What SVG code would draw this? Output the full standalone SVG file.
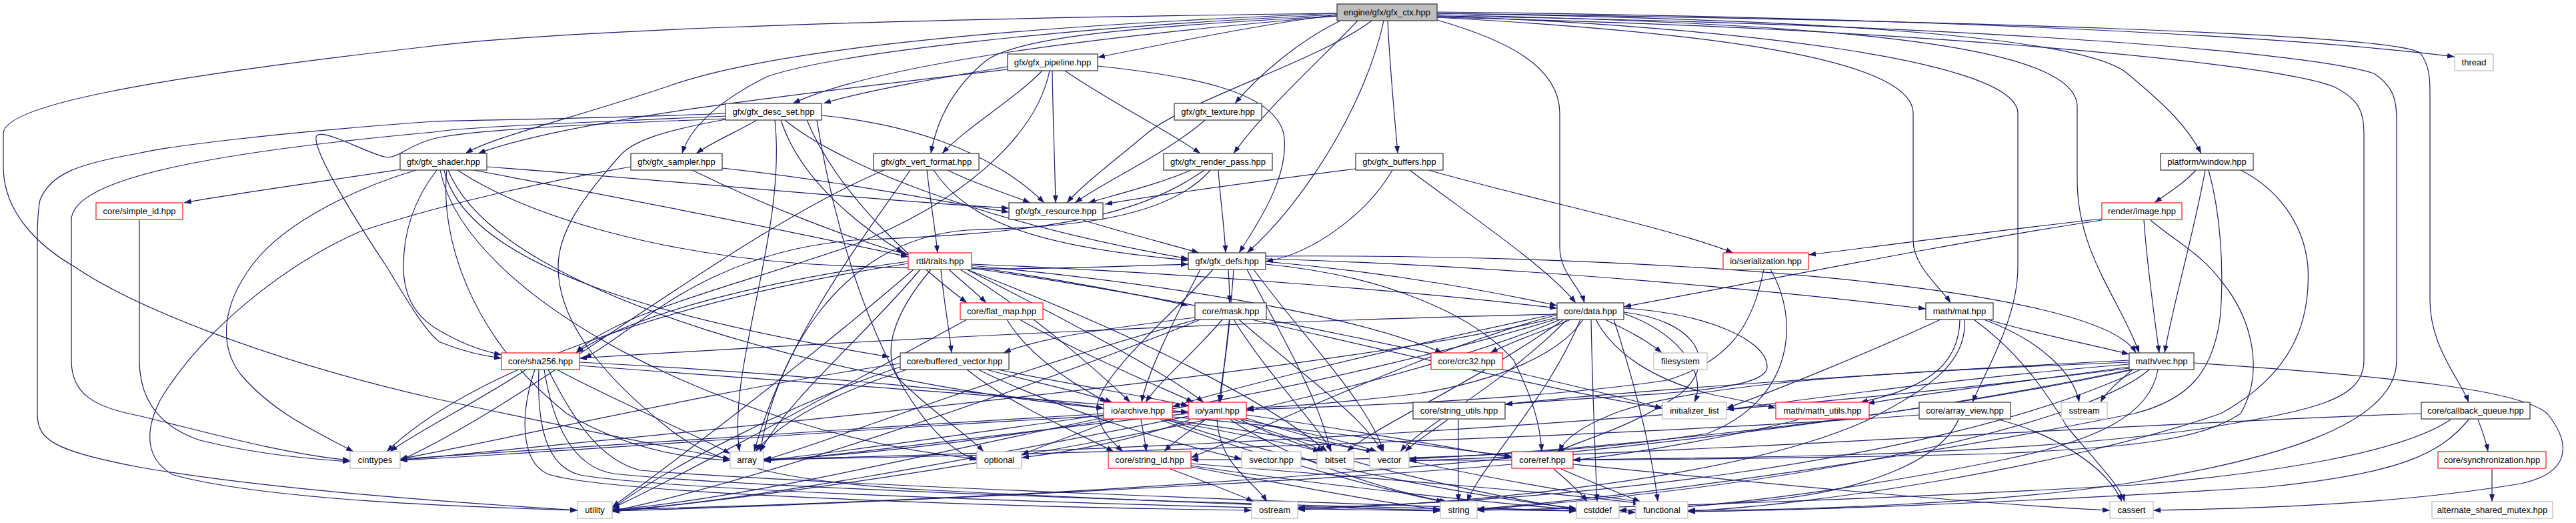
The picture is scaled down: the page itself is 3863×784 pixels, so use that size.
<svg xmlns="http://www.w3.org/2000/svg" width="3863" height="784" viewBox="0 0 3863 784">
<defs>
<marker id="a" markerUnits="userSpaceOnUse" markerWidth="11" markerHeight="8" refX="11" refY="4" orient="auto"><path d="M0,0 L11,4 L0,8 z" fill="#191970"/></marker>
<style>
.e{fill:none;stroke:#191970;stroke-width:1.2;marker-end:url(#a)}
.n rect{fill:#fff;stroke:#404040;stroke-width:1.3}
.r rect{stroke:#ff2020}
.g rect{stroke:#bfbfbf}
.root rect{fill:#bfbfbf}
text{font-family:"Liberation Sans",Arial,sans-serif;font-size:13px;text-anchor:middle;fill:#000}
</style>
</defs>
<rect width="3863" height="784" fill="#fff"/>
<g id="edges">
<path class="e" d="M2005,22 C1900,35 1750,65 1646,86"/>
<path class="e" d="M2005,24 C1700,50 1330,90 1189,155"/>
<path class="e" d="M2005,20 C1500,40 1150,75 1000,130 C850,180 740,205 698,230"/>
<path class="e" d="M2005,22 C1600,40 1250,80 1150,115 C1080,150 1035,190 1023,230"/>
<path class="e" d="M2005,24 C1700,40 1530,55 1480,90 C1430,130 1405,180 1396,230"/>
<path class="e" d="M2010,31 C1950,60 1890,110 1852,155"/>
<path class="e" d="M2036,31 C1990,80 1900,160 1850,230"/>
<path class="e" d="M2057,31 C1980,90 1780,150 1720,200 C1660,250 1620,280 1600,304"/>
<path class="e" d="M2075,31 C2050,150 1960,300 1870,379"/>
<path class="e" d="M2081,31 C2084,100 2091,170 2096,230"/>
<path class="e" d="M2155,30 C2260,60 2339,100 2339,170 L2339,370 C2339,410 2370,430 2376,454"/>
<path class="e" d="M2155,26 C2500,45 2869,80 2869,170 L2869,360 C2869,400 2910,430 2925,454"/>
<path class="e" d="M2155,24 C2600,40 3026,90 3026,170 L3026,400 C3026,480 2975,560 2958,603"/>
<path class="e" d="M2155,22 C2700,35 3115,60 3115,160 L3115,270 C3115,380 3180,450 3208,529"/>
<path class="e" d="M2155,20 C2800,30 3130,60 3190,110 C3250,160 3280,190 3301,230"/>
<path class="e" d="M2155,18 C2800,25 3400,50 3681,85"/>
<path class="e" d="M2155,20 C2900,30 3600,50 3630,80 C3644,100 3644,120 3644,140 L3644,450 C3644,520 3690,570 3702,603"/>
<path class="e" d="M2155,26 C2800,40 3400,90 3500,130 C3540,150 3545,170 3545,200 L3545,540 C3545,600 3470,615 3300,643 C3000,685 2600,686 2359,689"/>
<path class="e" d="M2155,24 C2900,35 3450,75 3560,110 C3590,130 3594,150 3594,180 L3594,540 C3594,640 3400,690 3200,723 C3000,755 2700,765 2531,765"/>
<path class="e" d="M2005,20 C1200,30 800,50 640,70 C200,120 5,160 5,200 L5,250 C5,320 60,370 112,400 C200,460 400,540 650,597 C850,640 1000,670 1095,688"/>
<path class="e" d="M1511,100 C1420,115 1300,135 1235,155"/>
<path class="e" d="M1511,104 C1200,140 850,180 717,230"/>
<path class="e" d="M1563,106 C1520,150 1450,190 1413,230"/>
<path class="e" d="M1578,106 C1579,180 1582,250 1583,304"/>
<path class="e" d="M1597,106 C1660,150 1750,195 1800,230"/>
<path class="e" d="M1646,99 C1800,115 1910,140 1925,200 C1935,260 1890,330 1858,379"/>
<path class="e" d="M1574,106 C1555,200 1450,300 1280,367 C1100,430 920,470 864,529"/>
<path class="e" d="M1135,180 C1110,195 1070,212 1044,230"/>
<path class="e" d="M1232,173 C1350,185 1480,220 1566,304"/>
<path class="e" d="M1177,180 C1250,240 1450,330 1782,388"/>
<path class="e" d="M1171,180 C1200,270 1290,340 1355,379"/>
<path class="e" d="M1162,180 C1180,350 1090,550 1109,677"/>
<path class="e" d="M1088,170 C900,178 700,180 650,182 C400,200 250,220 207,230 C120,245 75,260 60,300 C56,320 56,340 56,360 L56,620 C56,660 80,675 207,700 C350,725 550,745 866,765"/>
<path class="e" d="M1088,174 C850,185 700,190 650,198 C300,230 107,270 107,330 L107,540 C107,590 140,610 207,623 C300,645 420,680 525,690"/>
<path class="e" d="M1088,178 C900,185 700,195 650,208 C610,218 595,240 576,235 C540,225 480,190 474,205 C470,230 540,340 580,400 C610,450 640,500 660,513 C690,525 720,533 752,537"/>
<path class="e" d="M1088,179 C1000,195 950,210 930,233 C870,300 837,350 837,400 C837,480 900,560 1000,640 C1070,700 1200,725 1400,735 C1700,750 2000,762 2160,765"/>
<path class="e" d="M1225,180 C1260,400 1350,650 1465,690"/>
<path class="e" d="M1210,180 C1260,300 1380,400 1450,454"/>
<path class="e" d="M600,254 C500,270 350,290 276,304"/>
<path class="e" d="M624,255 C540,280 430,330 380,395 C330,460 330,520 360,560 C410,620 480,650 530,677"/>
<path class="e" d="M655,255 C620,300 605,350 605,400 C605,440 620,470 650,490 C690,515 720,525 752,532"/>
<path class="e" d="M730,250 C1000,270 1300,300 1513,312"/>
<path class="e" d="M710,255 C950,300 1200,350 1362,385"/>
<path class="e" d="M686,255 C800,330 1000,380 1200,395 C1450,410 1650,400 1782,396"/>
<path class="e" d="M670,255 C660,350 700,500 850,620 C950,680 1050,688 1095,690"/>
<path class="e" d="M666,255 C700,400 1000,480 1334,535"/>
<path class="e" d="M660,255 C700,450 1100,650 1465,688"/>
<path class="e" d="M672,255 C750,450 1300,580 1655,612"/>
<path class="e" d="M1083,252 C1250,270 1400,300 1513,318"/>
<path class="e" d="M1038,255 C1150,310 1280,360 1362,382"/>
<path class="e" d="M946,250 C800,275 650,310 540,347 C420,400 300,500 240,600 C215,650 220,690 260,712 C400,750 700,760 866,765"/>
<path class="e" d="M1421,255 C1460,275 1510,290 1545,304"/>
<path class="e" d="M1400,255 C1450,330 1550,370 1782,390"/>
<path class="e" d="M1390,255 C1395,300 1402,340 1406,379"/>
<path class="e" d="M1365,255 C1300,350 1180,500 1131,677"/>
<path class="e" d="M1326,255 C1100,350 800,600 600,690"/>
<path class="e" d="M1807,180 C1750,230 1660,270 1612,304"/>
<path class="e" d="M1786,255 C1740,275 1680,290 1632,304"/>
<path class="e" d="M1827,255 C1830,300 1836,340 1838,379"/>
<path class="e" d="M1806,255 C1700,330 1550,350 1280,360 C1050,380 950,500 876,537"/>
<path class="e" d="M1815,255 C1750,330 1600,340 1450,345 C1250,360 1160,550 1140,677"/>
<path class="e" d="M2033,253 C1900,270 1750,290 1657,306"/>
<path class="e" d="M2088,255 C2050,320 1970,380 1898,392"/>
<path class="e" d="M2114,255 C2200,320 2320,400 2363,454"/>
<path class="e" d="M2142,255 C2300,300 2500,340 2599,379"/>
<path class="e" d="M3293,255 C3275,275 3250,290 3231,304"/>
<path class="e" d="M3307,255 C3290,350 3260,450 3246,529"/>
<path class="e" d="M3312,255 C3330,320 3335,400 3330,470 C3320,560 3280,600 3200,620 C2900,680 2500,740 2215,763"/>
<path class="e" d="M3360,255 C3410,280 3455,330 3461,400 C3465,480 3440,560 3330,620 C3100,700 2700,760 2531,766"/>
<path class="e" d="M209,330 L209,540 C209,600 240,640 300,660 C380,680 460,688 525,692"/>
<path class="e" d="M3215,330 C3220,400 3230,470 3238,529"/>
<path class="e" d="M3152,328 C3000,345 2850,365 2712,382"/>
<path class="e" d="M3152,330 C2950,360 2700,410 2435,460"/>
<path class="e" d="M3225,330 C3260,360 3300,380 3330,420 C3380,480 3395,560 3360,620 C3300,660 3200,670 3000,680 C2600,690 2300,690 2113,690"/>
<path class="e" d="M1423,404 C1440,420 1465,440 1479,454"/>
<path class="e" d="M1411,404 C1415,450 1423,490 1427,529"/>
<path class="e" d="M1396,404 C1340,470 1320,530 1350,570 C1400,620 1450,650 1475,677"/>
<path class="e" d="M1457,400 C1600,420 1700,440 1782,458"/>
<path class="e" d="M1457,396 C1800,410 2150,440 2335,462"/>
<path class="e" d="M1457,398 C1800,430 2050,480 2163,529"/>
<path class="e" d="M1450,404 C1600,480 1750,560 1805,603"/>
<path class="e" d="M1440,404 C1550,470 1650,560 1695,603"/>
<path class="e" d="M1380,404 C1300,500 1180,600 1140,677"/>
<path class="e" d="M1370,404 C1200,550 1000,700 918,760"/>
<path class="e" d="M1362,395 C1000,450 700,560 580,677"/>
<path class="e" d="M1362,392 C1150,420 950,470 864,529"/>
<path class="e" d="M1457,402 C1800,450 2300,560 2493,612"/>
<path class="e" d="M1450,404 C1700,500 1900,600 1990,677"/>
<path class="e" d="M1842,404 C1843,420 1844,440 1844,454"/>
<path class="e" d="M1898,392 C2100,410 2250,440 2335,458"/>
<path class="e" d="M1898,388 C2300,400 2700,440 2888,463"/>
<path class="e" d="M1898,384 C2500,380 3150,430 3203,529"/>
<path class="e" d="M1819,404 C1760,470 1650,560 1645,610 C1645,640 1665,660 1684,677"/>
<path class="e" d="M1898,396 C2050,410 2200,460 2270,540 C2300,600 2310,640 2312,677"/>
<path class="e" d="M1850,404 C1845,480 1835,550 1830,603"/>
<path class="e" d="M1800,404 C1760,480 1720,560 1712,603"/>
<path class="e" d="M1880,404 C1950,500 2050,600 2075,677"/>
<path class="e" d="M1870,404 C1920,500 1980,600 1995,677"/>
<path class="e" d="M1624,330 C1690,350 1760,368 1798,379"/>
<path class="e" d="M2645,404 C2630,480 2600,540 2500,570 C2300,600 2000,610 1869,614"/>
<path class="e" d="M2655,404 C2700,480 2690,600 2560,650 C2300,690 2000,690 1786,689"/>
<path class="e" d="M1510,479 C1540,530 1600,570 1660,603"/>
<path class="e" d="M1529,479 C1620,530 1740,580 1790,603"/>
<path class="e" d="M1450,479 C1300,560 1050,700 918,762"/>
<path class="e" d="M1833,479 C1790,530 1740,570 1718,603"/>
<path class="e" d="M1844,479 C1840,530 1832,570 1828,603"/>
<path class="e" d="M1850,479 C1900,560 1970,630 1997,677"/>
<path class="e" d="M1858,479 C1950,560 2040,620 2073,677"/>
<path class="e" d="M1792,476 C1680,490 1560,505 1505,529"/>
<path class="e" d="M1877,479 C2100,530 2350,590 2493,612"/>
<path class="e" d="M1800,479 C1500,600 1100,730 918,766"/>
<path class="e" d="M1795,479 C1500,560 1250,660 1145,690"/>
<path class="e" d="M2355,479 C2320,495 2270,510 2235,529"/>
<path class="e" d="M2407,479 C2440,495 2470,510 2492,529"/>
<path class="e" d="M2386,479 C2388,580 2392,680 2395,752"/>
<path class="e" d="M2374,479 C2340,530 2250,570 2127,590 C2000,605 1920,610 1869,612"/>
<path class="e" d="M2393,479 C2420,530 2480,570 2570,592 C2610,600 2640,606 2663,612"/>
<path class="e" d="M2435,462 C2560,470 2650,510 2650,550 C2650,590 2450,590 2257,606"/>
<path class="e" d="M2435,468 C2540,480 2580,540 2520,590 C2450,640 2370,660 2335,677"/>
<path class="e" d="M2335,472 C2150,520 1900,640 1786,686"/>
<path class="e" d="M2335,476 C2000,560 1000,650 600,690"/>
<path class="e" d="M2335,478 C2000,580 1500,670 1145,690"/>
<path class="e" d="M2340,479 C2000,620 1300,730 918,767"/>
<path class="e" d="M2370,479 C2320,600 2220,700 2200,752"/>
<path class="e" d="M2420,479 C2460,600 2480,700 2486,752"/>
<path class="e" d="M2350,479 C2250,580 2130,640 2100,677"/>
<path class="e" d="M2345,479 C2200,580 2060,640 2020,677"/>
<path class="e" d="M2435,470 C2520,500 2560,560 2541,603"/>
<path class="e" d="M2335,470 C2100,520 1850,580 1758,610"/>
<path class="e" d="M2335,471 C1900,480 1300,510 869,537"/>
<path class="e" d="M2981,479 C3050,500 3130,515 3193,531"/>
<path class="e" d="M2975,479 C3060,510 3110,560 3118,603"/>
<path class="e" d="M2960,479 C3030,530 3070,590 3100,640 C3150,700 3180,730 3186,752"/>
<path class="e" d="M2939,479 C2938,540 2900,580 2790,603"/>
<path class="e" d="M2910,479 C2800,530 2650,590 2589,612"/>
<path class="e" d="M2946,479 C2950,540 2900,580 2800,630 C2600,720 2200,755 1946,764"/>
<path class="e" d="M789,554 C720,600 620,650 585,677"/>
<path class="e" d="M835,554 C920,600 1040,650 1095,680"/>
<path class="e" d="M869,543 C1200,560 1500,590 1655,612"/>
<path class="e" d="M869,548 C1300,580 1600,600 1782,618"/>
<path class="e" d="M802,554 C780,620 780,690 820,710 C900,740 1500,760 1877,765"/>
<path class="e" d="M808,554 C805,640 820,700 870,712 C1000,735 1700,760 2160,766"/>
<path class="e" d="M816,554 C830,640 860,700 920,710 C1100,730 1900,760 2364,766"/>
<path class="e" d="M822,554 C860,630 900,690 960,705 C1200,725 2100,760 2453,768"/>
<path class="e" d="M1450,554 C1520,610 1620,650 1670,677"/>
<path class="e" d="M1467,554 C1600,620 1780,670 1862,688"/>
<path class="e" d="M1479,554 C1560,575 1630,590 1668,603"/>
<path class="e" d="M1496,554 C1600,575 1720,595 1782,608"/>
<path class="e" d="M1360,554 C1280,580 1180,620 1133,677"/>
<path class="e" d="M1350,550 C1200,600 1000,700 918,763"/>
<path class="e" d="M1350,545 C1100,580 800,650 600,688"/>
<path class="e" d="M3290,544 C3600,565 3780,585 3820,620 C3860,670 3850,710 3780,725 C3600,755 3400,762 3229,765"/>
<path class="e" d="M3198,554 C3180,570 3160,585 3150,603"/>
<path class="e" d="M3193,550 C3050,570 2880,590 2800,605"/>
<path class="e" d="M3193,546 C2950,565 2700,600 2589,614"/>
<path class="e" d="M3193,540 C2800,560 2400,590 2257,606"/>
<path class="e" d="M3193,543 C2900,555 2550,570 2420,620 C2370,640 2345,660 2338,677"/>
<path class="e" d="M3200,554 C2800,640 2300,680 2113,688"/>
<path class="e" d="M3210,554 C2900,700 2300,755 1946,761"/>
<path class="e" d="M3193,552 C2500,640 1600,680 1145,688"/>
<path class="e" d="M3195,554 C2500,700 1500,750 918,764"/>
<path class="e" d="M3236,554 C3225,620 3150,660 3000,690 C2750,740 2550,762 2428,765"/>
<path class="e" d="M3223,554 C3150,620 2800,720 2215,764"/>
<path class="e" d="M2171,629 C2150,645 2125,660 2107,677"/>
<path class="e" d="M2187,629 L2187,752"/>
<path class="e" d="M2697,629 C2620,650 2450,680 2359,690"/>
<path class="e" d="M2997,629 C3080,650 3160,700 3182,752"/>
<path class="e" d="M2937,629 C2910,690 2800,735 2650,750 C2550,758 2480,764 2428,765"/>
<path class="e" d="M2878,622 C2500,650 1700,680 1145,689"/>
<path class="e" d="M3716,629 C3722,645 3728,660 3731,677"/>
<path class="e" d="M3702,629 C3660,680 3600,710 3400,730 C3000,755 2700,765 2531,767"/>
<path class="e" d="M3631,620 C3300,630 2700,670 2113,691"/>
<path class="e" d="M3675,629 C3600,680 3400,710 3200,727 C2800,750 2400,762 2215,765"/>
<path class="e" d="M3737,703 L3737,752"/>
<path class="e" d="M1711,629 C1714,645 1717,660 1719,677"/>
<path class="e" d="M1670,629 C1620,650 1570,665 1532,682"/>
<path class="e" d="M1655,622 C1450,650 1250,680 1145,690"/>
<path class="e" d="M1655,626 C1400,680 1100,750 918,764"/>
<path class="e" d="M1655,620 C1300,640 900,670 600,688"/>
<path class="e" d="M1745,629 C1850,650 1940,665 1980,677"/>
<path class="e" d="M1752,629 C1900,650 2020,670 2060,677"/>
<path class="e" d="M1758,625 C1950,640 2150,670 2267,684"/>
<path class="e" d="M1740,629 C1900,690 2100,740 2165,752"/>
<path class="e" d="M1750,629 C1950,700 2250,750 2364,762"/>
<path class="e" d="M1808,629 C1785,645 1760,662 1746,677"/>
<path class="e" d="M1785,629 C1700,660 1600,678 1532,686"/>
<path class="e" d="M1782,620 C1500,650 1250,685 1145,691"/>
<path class="e" d="M1782,624 C1450,690 1100,755 918,765"/>
<path class="e" d="M1782,617 C1300,640 900,675 600,690"/>
<path class="e" d="M1850,629 C1920,650 1965,665 1985,677"/>
<path class="e" d="M1862,629 C1960,648 2030,665 2065,677"/>
<path class="e" d="M1869,622 C2000,640 2170,670 2267,686"/>
<path class="e" d="M1845,629 C1950,700 2120,745 2170,752"/>
<path class="e" d="M1860,629 C2000,700 2280,750 2364,764"/>
<path class="e" d="M1825,629 C1830,700 1880,720 1900,752"/>
<path class="e" d="M1869,627 C2100,700 2400,745 2460,752"/>
<path class="e" d="M1755,703 C1800,720 1850,738 1880,752"/>
<path class="e" d="M1786,700 C1950,730 2080,755 2160,764"/>
<path class="e" d="M1786,698 C2000,730 2250,755 2364,764"/>
<path class="e" d="M1786,695 C2100,720 2350,740 2460,755"/>
<path class="e" d="M2341,703 C2380,720 2430,740 2460,752"/>
<path class="e" d="M2267,696 C2000,720 1300,755 918,766"/>
<path class="e" d="M2359,696 C2600,720 2950,755 3164,765"/>
<path class="e" d="M2330,703 C2350,720 2370,738 2380,752"/>
</g>
<g id="n_root" class="n root"><rect x="2005" y="6" width="150" height="25"/><text x="2080" y="23">engine/gfx/gfx_ctx.hpp</text></g>
<g id="n_pipeline" class="n"><rect x="1511" y="81" width="135" height="25"/><text x="1578.5" y="98">gfx/gfx_pipeline.hpp</text></g>
<g id="n_thread" class="n g"><rect x="3681" y="81" width="58" height="25"/><text x="3710" y="98">thread</text></g>
<g id="n_desc_set" class="n"><rect x="1088" y="155" width="144" height="25"/><text x="1160" y="172">gfx/gfx_desc_set.hpp</text></g>
<g id="n_texture" class="n"><rect x="1761" y="155" width="131" height="25"/><text x="1826.5" y="172">gfx/gfx_texture.hpp</text></g>
<g id="n_shader" class="n"><rect x="600" y="230" width="130" height="25"/><text x="665" y="247">gfx/gfx_shader.hpp</text></g>
<g id="n_sampler" class="n"><rect x="946" y="230" width="137" height="25"/><text x="1014.5" y="247">gfx/gfx_sampler.hpp</text></g>
<g id="n_vert_format" class="n"><rect x="1310" y="230" width="158" height="25"/><text x="1389" y="247">gfx/gfx_vert_format.hpp</text></g>
<g id="n_render_pass" class="n"><rect x="1745" y="230" width="163" height="25"/><text x="1826.5" y="247">gfx/gfx_render_pass.hpp</text></g>
<g id="n_buffers" class="n"><rect x="2033" y="230" width="131" height="25"/><text x="2098.5" y="247">gfx/gfx_buffers.hpp</text></g>
<g id="n_window" class="n"><rect x="3240" y="230" width="139" height="25"/><text x="3309.5" y="247">platform/window.hpp</text></g>
<g id="n_simple_id" class="n r"><rect x="144" y="304" width="130" height="25"/><text x="209" y="321">core/simple_id.hpp</text></g>
<g id="n_resource" class="n"><rect x="1513" y="304" width="141" height="25"/><text x="1583.5" y="321">gfx/gfx_resource.hpp</text></g>
<g id="n_image" class="n r"><rect x="3152" y="304" width="120" height="25"/><text x="3212" y="321">render/image.hpp</text></g>
<g id="n_traits" class="n r"><rect x="1362" y="379" width="95" height="25"/><text x="1409.5" y="396">rtti/traits.hpp</text></g>
<g id="n_defs" class="n"><rect x="1782" y="379" width="116" height="25"/><text x="1840" y="396">gfx/gfx_defs.hpp</text></g>
<g id="n_serialization" class="n r"><rect x="2584" y="379" width="128" height="25"/><text x="2648" y="396">io/serialization.hpp</text></g>
<g id="n_flat_map" class="n r"><rect x="1440" y="454" width="124" height="25"/><text x="1502" y="471">core/flat_map.hpp</text></g>
<g id="n_mask" class="n"><rect x="1792" y="454" width="107" height="25"/><text x="1845.5" y="471">core/mask.hpp</text></g>
<g id="n_data" class="n"><rect x="2335" y="454" width="100" height="25"/><text x="2385" y="471">core/data.hpp</text></g>
<g id="n_mat" class="n"><rect x="2888" y="454" width="101" height="25"/><text x="2938.5" y="471">math/mat.hpp</text></g>
<g id="n_sha256" class="n r"><rect x="752" y="529" width="117" height="25"/><text x="810.5" y="546">core/sha256.hpp</text></g>
<g id="n_buffered_vector" class="n"><rect x="1350" y="529" width="163" height="25"/><text x="1431.5" y="546">core/buffered_vector.hpp</text></g>
<g id="n_crc32" class="n r"><rect x="2146" y="529" width="107" height="25"/><text x="2199.5" y="546">core/crc32.hpp</text></g>
<g id="n_filesystem" class="n g"><rect x="2480" y="529" width="80" height="25"/><text x="2520" y="546">filesystem</text></g>
<g id="n_vec" class="n"><rect x="3193" y="529" width="97" height="25"/><text x="3241.5" y="546">math/vec.hpp</text></g>
<g id="n_archive" class="n r"><rect x="1655" y="603" width="103" height="25"/><text x="1706.5" y="620">io/archive.hpp</text></g>
<g id="n_yaml" class="n r"><rect x="1782" y="603" width="87" height="25"/><text x="1825.5" y="620">io/yaml.hpp</text></g>
<g id="n_string_utils" class="n"><rect x="2119" y="603" width="138" height="25"/><text x="2188" y="620">core/string_utils.hpp</text></g>
<g id="n_initializer_list" class="n g"><rect x="2493" y="603" width="96" height="25"/><text x="2541" y="620">initializer_list</text></g>
<g id="n_math_utils" class="n r"><rect x="2663" y="603" width="140" height="25"/><text x="2733" y="620">math/math_utils.hpp</text></g>
<g id="n_array_view" class="n"><rect x="2878" y="603" width="137" height="25"/><text x="2946.5" y="620">core/array_view.hpp</text></g>
<g id="n_sstream" class="n g"><rect x="3091" y="603" width="69" height="25"/><text x="3125.5" y="620">sstream</text></g>
<g id="n_callback_queue" class="n"><rect x="3631" y="603" width="163" height="25"/><text x="3712.5" y="620">core/callback_queue.hpp</text></g>
<g id="n_cinttypes" class="n g"><rect x="525" y="677" width="75" height="25"/><text x="562.5" y="694">cinttypes</text></g>
<g id="n_array" class="n g"><rect x="1095" y="677" width="50" height="25"/><text x="1120" y="694">array</text></g>
<g id="n_optional" class="n g"><rect x="1465" y="677" width="67" height="25"/><text x="1498.5" y="694">optional</text></g>
<g id="n_string_id" class="n r"><rect x="1662" y="677" width="124" height="25"/><text x="1724" y="694">core/string_id.hpp</text></g>
<g id="n_svector" class="n g"><rect x="1862" y="677" width="89" height="25"/><text x="1906.5" y="694">svector.hpp</text></g>
<g id="n_bitset" class="n g"><rect x="1975" y="677" width="55" height="25"/><text x="2002.5" y="694">bitset</text></g>
<g id="n_vector" class="n g"><rect x="2054" y="677" width="59" height="25"/><text x="2083.5" y="694">vector</text></g>
<g id="n_ref" class="n r"><rect x="2267" y="677" width="92" height="25"/><text x="2313" y="694">core/ref.hpp</text></g>
<g id="n_synchronization" class="n r"><rect x="3656" y="677" width="162" height="25"/><text x="3737" y="694">core/synchronization.hpp</text></g>
<g id="n_utility" class="n g"><rect x="866" y="752" width="52" height="25"/><text x="892" y="769">utility</text></g>
<g id="n_ostream" class="n g"><rect x="1877" y="752" width="69" height="25"/><text x="1911.5" y="769">ostream</text></g>
<g id="n_string" class="n g"><rect x="2160" y="752" width="55" height="25"/><text x="2187.5" y="769">string</text></g>
<g id="n_cstddef" class="n g"><rect x="2364" y="752" width="64" height="25"/><text x="2396" y="769">cstddef</text></g>
<g id="n_functional" class="n g"><rect x="2453" y="752" width="78" height="25"/><text x="2492" y="769">functional</text></g>
<g id="n_cassert" class="n g"><rect x="3164" y="752" width="65" height="25"/><text x="3196.5" y="769">cassert</text></g>
<g id="n_alternate_shared_mutex" class="n g"><rect x="3647" y="752" width="181" height="25"/><text x="3737.5" y="769">alternate_shared_mutex.hpp</text></g>
</svg>
